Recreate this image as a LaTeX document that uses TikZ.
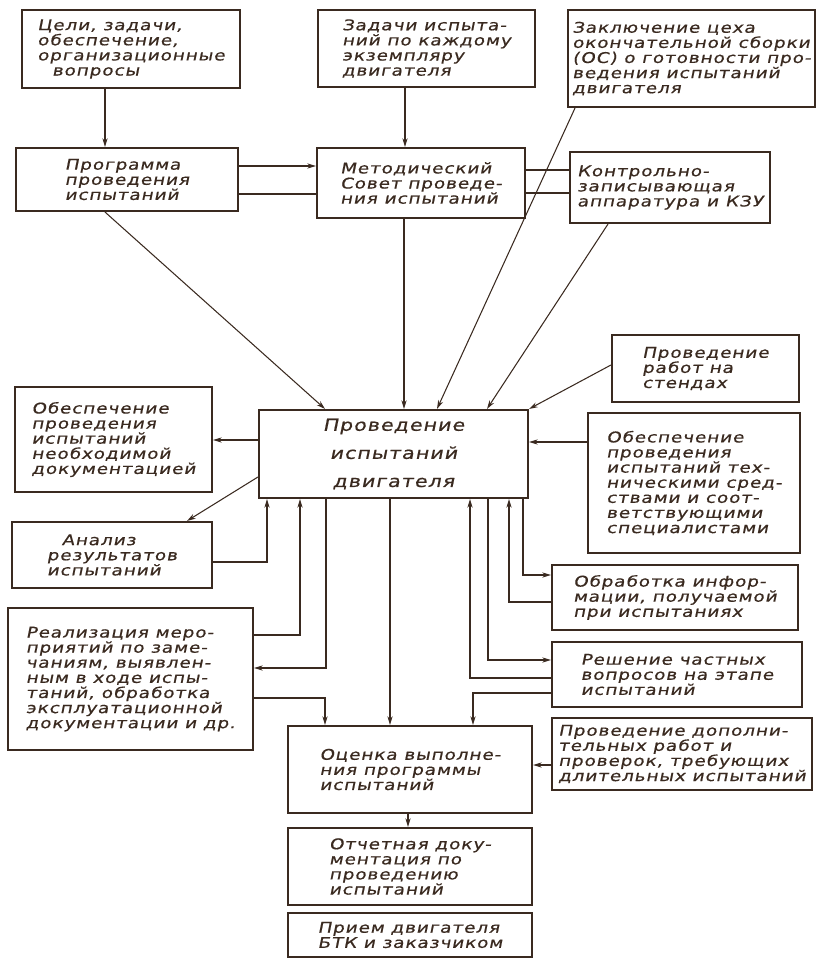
\documentclass[tikz,border=0pt]{standalone}
\usepackage{fontspec}
\newfontfamily\drawfont[FakeStretch=1.25,FakeSlant=0.2,FakeBold=0.6,LetterSpace=6]{DejaVu Sans}
\usetikzlibrary{arrows.meta}
\definecolor{ink}{RGB}{58,42,32}

\begin{document}
\begin{tikzpicture}[x=0.02cm, y=-0.02cm,
    blk/.style={draw=ink, line width=1.2pt, align=left, inner sep=1.5pt, text=ink,
        font=\drawfont\fontsize{8.4}{8.6}\selectfont},
    sz/.style 2 args={minimum width=#1*0.02cm, minimum height=#2*0.02cm},
    arr/.style={draw=ink, line width=0.6pt, -{Stealth[length=5pt,width=3pt]}},
    ln/.style={draw=ink, line width=0.6pt}
]
\useasboundingbox (0,0) rectangle (818,959);
% top row
\node[blk, sz={218}{78}] (celi) at (131,49) {Цели, задачи,\\обеспечение,\\организационные\\\quad вопросы};
\node[blk, sz={217}{77}] (zadachi) at (426.5,48.5) {Задачи испыта-\\ний по каждому\\экземпляру\\двигателя};
\node[blk, sz={247}{97}] (zakl) at (691.5,58.5) {Заключение цеха\\окончательной сборки\\(ОС) о готовности про-\\ведения испытаний\\двигателя};
% second row
\node[blk, sz={222}{63}] (progr) at (127,179.5) {Программа\\проведения\\испытаний};
\node[blk, sz={208}{70}] (metod) at (421,183) {Методический\\Совет проведе-\\ния испытаний};
\node[blk, sz={200}{71}] (kontr) at (670,187.5) {Контрольно-\\записывающая\\аппаратура и КЗУ};
% centre
\node[blk, sz={269}{88}, align=center, font=\drawfont\fontsize{9.4}{16}\selectfont] (prov) at (393.5,454) {Проведение\\испытаний\\двигателя};
% left column
\node[blk, sz={197}{105}] (obesp) at (113.5,439.5) {Обеспечение\\проведения\\испытаний\\необходимой\\документацией};
\node[blk, sz={200}{66}] (analiz) at (112,555) {\quad Анализ\\результатов\\испытаний};
\node[blk, sz={245}{142}] (real) at (130.5,679) {Реализация меро-\\приятий по заме-\\чаниям, выявлен-\\ным в ходе испы-\\таний, обработка\\эксплуатационной\\документации и др.};
% right column
\node[blk, sz={187}{67}] (stend) at (705.5,368.5) {Проведение\\работ на\\стендах};
\node[blk, sz={212}{140}] (tech) at (694,483) {Обеспечение\\проведения\\испытаний тех-\\ническими сред-\\ствами и соот-\\ветствующими\\специалистами};
\node[blk, sz={246}{65}] (obrab) at (675,597.5) {Обработка инфор-\\мации, получаемой\\при испытаниях};
\node[blk, sz={250}{65}] (resh) at (677,674.5) {Решение частных\\вопросов на этапе\\испытаний};
\node[blk, sz={260}{72}] (dop) at (682,754) {Проведение дополни-\\тельных работ и\\проверок, требующих\\длительных испытаний};
% bottom column
\node[blk, sz={244}{87}] (ocenka) at (410,769.5) {Оценка выполне-\\ния программы\\испытаний};
\node[blk, sz={244}{77}] (otchet) at (410,866.5) {Отчетная доку-\\ментация по\\проведению\\испытаний};
\node[blk, sz={244}{44}] (priem) at (410,935) {Прием двигателя\\БТК и заказчиком};

% connectors, upper part
\draw[arr] (celi.south -| 105,0) -- (progr.north -| 105,0);
\draw[arr] (zadachi.south -| 405,0) -- (metod.north -| 405,0);
\draw[arr] (progr.east |- 0,166) -- (metod.west |- 0,166);
\draw[ln] (progr.east |- 0,194) -- (metod.west |- 0,194);
\draw[ln] (metod.east |- 0,170) -- (kontr.west |- 0,170);
\draw[ln] (metod.east |- 0,193) -- (kontr.west |- 0,193);
\draw[arr] (zakl.south -| 575,0) -- (prov.north -| 437,0);
\draw[arr] (kontr.south -| 608,0) -- (prov.north -| 487,0);
\draw[arr] (metod.south -| 404,0) -- (prov.north -| 404,0);
\draw[arr] (progr.south -| 105,0) -- (prov.north -| 325,0);
\draw[arr] (stend.west |- 0,365) -- (prov.north east);
\draw[arr] (tech.west |- 0,442) -- (prov.east |- 0,442);
\draw[arr] (prov.west |- 0,440) -- (obesp.east |- 0,440);
\draw[arr] (prov.west |- 0,477) -- (analiz.north -| 187,0);
% connectors, lower part
\draw[arr] (analiz.east |- 0,562) -| (prov.south -| 267,0);
\draw[arr] (real.east |- 0,635) -| (prov.south -| 300,0);
\draw[arr] (prov.south -| 326,0) |- (real.east |- 0,668);
\draw[arr] (real.east |- 0,698) -| (ocenka.north -| 325,0);
\draw[arr] (prov.south -| 390,0) -- (ocenka.north -| 390,0);
\draw[arr] (resh.west |- 0,678) -| (prov.south -| 470,0);
\draw[arr] (prov.south -| 488,0) |- (resh.west |- 0,660);
\draw[arr] (obrab.west |- 0,602) -| (prov.south -| 509,0);
\draw[arr] (prov.south -| 523,0) |- (obrab.west |- 0,575);
\draw[arr] (resh.west |- 0,693) -| (ocenka.north -| 473,0);
\draw[arr] (dop.west |- 0,765) -- (ocenka.east |- 0,765);
\draw[arr] (ocenka.south -| 408,0) -- (otchet.north -| 408,0);
\end{tikzpicture}
\end{document}
